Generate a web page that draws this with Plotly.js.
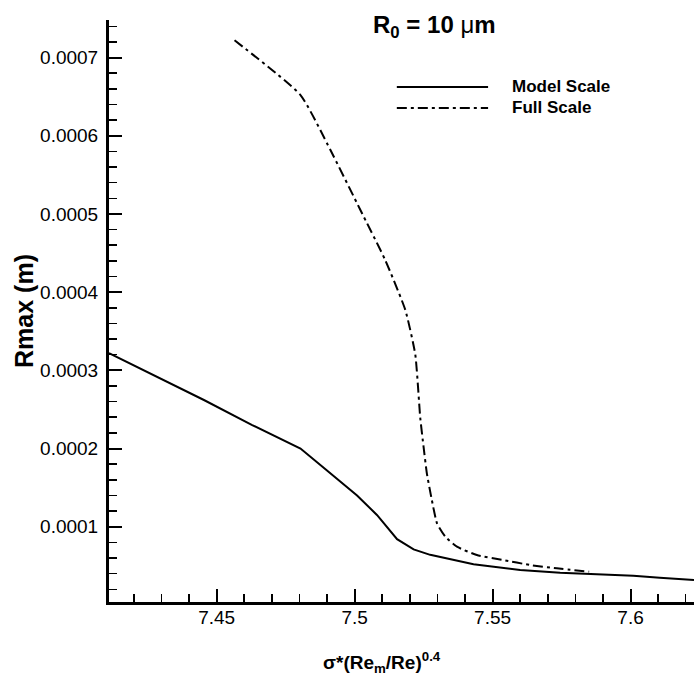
<!DOCTYPE html>
<html>
<head>
<meta charset="utf-8">
<script src="https://cdn.plot.ly/plotly-3.0.1.min.js"></script>
<style>html,body{margin:0;padding:0;background:#fff;}#chart{width:694px;height:681px;}</style>
</head>
<body>
<div id="chart"></div>
<script>
// Series: Model Scale (solid)
var modelX = [7.411, 7.4454, 7.4629, 7.4804, 7.4900, 7.5009, 7.5081, 7.5154, 7.5214, 7.5274, 7.5431, 7.5600, 7.5745, 7.5889, 7.6010, 7.6106, 7.623];
var modelY = [0.000322, 0.000262, 0.000230, 0.000200, 0.000172, 0.000140, 0.000115, 0.000084, 0.000071, 0.000064, 0.000052, 0.0000446, 0.0000412, 0.0000395, 0.0000373, 0.0000348, 0.0000318];
// Series: Full Scale (dash-dot)
var fullX = [7.4565, 7.4804, 7.4912, 7.5021, 7.5111, 7.5184, 7.5220, 7.5238, 7.5250, 7.5262, 7.5280, 7.5299, 7.5329, 7.5371, 7.5443, 7.5539, 7.5636, 7.5733, 7.5850];
var fullY = [0.000722, 0.000652, 0.000582, 0.000505, 0.000441, 0.000377, 0.000320, 0.000239, 0.000202, 0.000168, 0.000134, 0.000104, 0.0000872, 0.0000744, 0.0000638, 0.0000574, 0.000051, 0.0000468, 0.0000425];
var seriesNames = ["Model Scale", "Full Scale"];
var xTickVals = [7.45, 7.5, 7.55, 7.6];
var xTickText = ["7.45", "7.5", "7.55", "7.6"];
var yTickVals = [0.0001, 0.0002, 0.0003, 0.0004, 0.0005, 0.0006, 0.0007];
var yTickText = ["0.0001", "0.0002", "0.0003", "0.0004", "0.0005", "0.0006", "0.0007"];

var FONT = "Liberation Sans, Arial, sans-serif";
var DASHDOT = "10px,4px,3px,4px";

var traces = [
  {x: modelX, y: modelY, mode: "lines", name: seriesNames[0], line: {color: "#000", width: 2}},
  {x: fullX, y: fullY, mode: "lines", name: seriesNames[1], line: {color: "#000", width: 2, dash: DASHDOT, shape: "spline", smoothing: 0.5}}
];

var layout = {
  width: 694, height: 681,
  margin: {l: 109, r: 0, t: 20, b: 79},
  paper_bgcolor: "#fff", plot_bgcolor: "#fff",
  showlegend: false,
  font: {family: FONT, color: "#000"},
  xaxis: {
    range: [7.411, 7.623],
    tickvals: xTickVals, ticktext: xTickText,
    ticks: "inside", ticklen: 13, tickwidth: 2, tickcolor: "#000",
    minor: {dtick: 0.01, ticks: "inside", ticklen: 8, tickwidth: 1.5, tickcolor: "#000", showgrid: false},
    showgrid: false, zeroline: false,
    showline: true, linecolor: "#000", linewidth: 3,
    tickfont: {size: 19, family: FONT, color: "#000"},
    ticklabelstandoff: -4
  },
  yaxis: {
    range: [0.0000037, 0.000748],
    tickvals: yTickVals, ticktext: yTickText,
    ticks: "inside", ticklen: 13, tickwidth: 2, tickcolor: "#000",
    minor: {dtick: 0.00002, ticks: "inside", ticklen: 8, tickwidth: 1.5, tickcolor: "#000", showgrid: false},
    showgrid: false, zeroline: false,
    showline: true, linecolor: "#000", linewidth: 3,
    tickfont: {size: 19, family: FONT, color: "#000"},
    ticklabelstandoff: 4,
    title: {text: "<b>Rmax (m)</b>", font: {size: 25, family: FONT, color: "#000"}, standoff: 0}
  },
  shapes: [
    {type: "line", xref: "paper", yref: "paper", x0: 0.492, x1: 0.648, y0: 0.885, y1: 0.885, line: {color: "#000", width: 2}},
    {type: "line", xref: "paper", yref: "paper", x0: 0.492, x1: 0.648, y0: 0.849, y1: 0.849, line: {color: "#000", width: 2, dash: DASHDOT}}
  ],
  annotations: [
    {xref: "paper", yref: "paper", x: 0.467, y: -0.1031, xanchor: "center", yanchor: "middle", showarrow: false,
     text: "<b>σ*(Re<sub>m</sub>/Re)<sup>0.4</sup></b>", font: {size: 19, family: FONT, color: "#000"}},
    {xref: "paper", yref: "paper", x: 0.557, y: 0.988, xanchor: "center", yanchor: "middle", showarrow: false,
     text: "<b>R<sub>0</sub> = 10 </b>μ<b>m</b>", font: {size: 24, family: FONT, color: "#000"}},
    {xref: "paper", yref: "paper", x: 0.6855, y: 0.885, xanchor: "left", yanchor: "middle", showarrow: false,
     text: "<b>" + seriesNames[0] + "</b>", font: {size: 17, family: FONT, color: "#000"}},
    {xref: "paper", yref: "paper", x: 0.6855, y: 0.849, xanchor: "left", yanchor: "middle", showarrow: false,
     text: "<b>" + seriesNames[1] + "</b>", font: {size: 17, family: FONT, color: "#000"}}
  ]
};

Plotly.newPlot("chart", traces, layout, {staticPlot: true, displayModeBar: false});
</script>
</body>
</html>
